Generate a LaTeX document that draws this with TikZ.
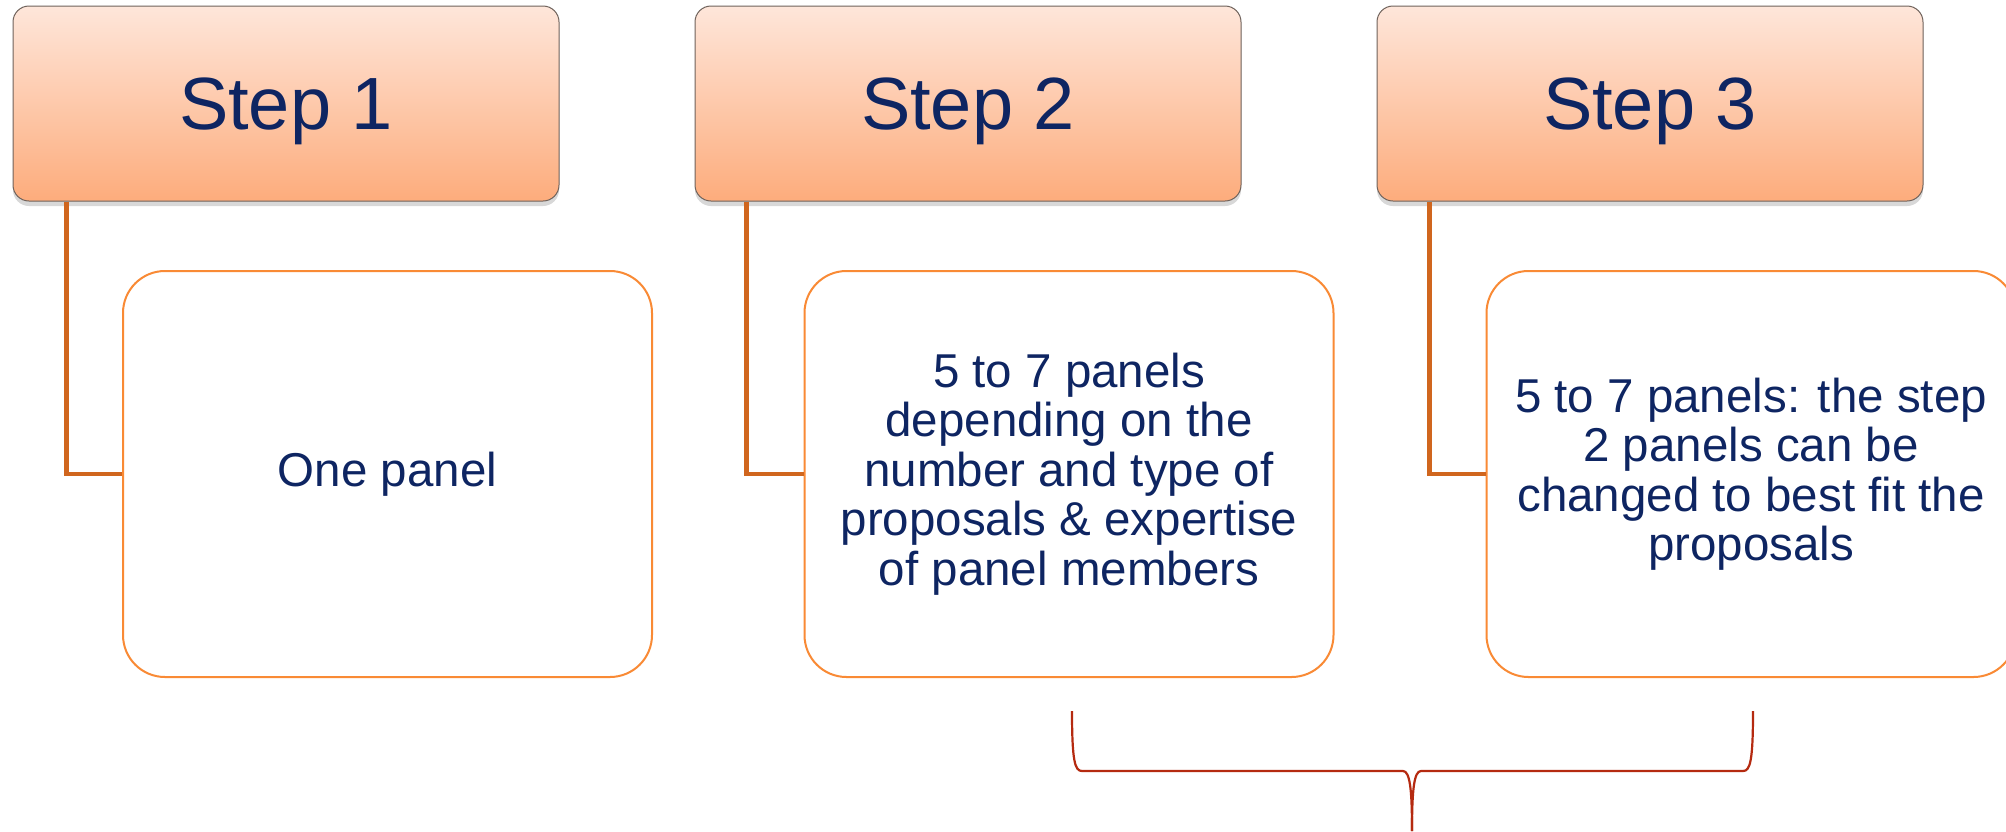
\documentclass[tikz,border=0pt]{standalone}
\usepackage{fontspec}
\setmainfont{Liberation Sans}
\usetikzlibrary{shadows}
\definecolor{navy}{HTML}{0E2562}
\definecolor{peachtop}{HTML}{FEE6DA}
\definecolor{peachbot}{HTML}{FDAC7C}
\definecolor{stepborder}{HTML}{6F625B}
\definecolor{linkcol}{HTML}{D0661E}
\definecolor{panelcol}{HTML}{F98A35}
\definecolor{bracecol}{HTML}{B52A10}
\tikzset{
  stepbox/.style={draw=stepborder, line width=1pt, rounded corners=16pt,
    top color=peachtop, bottom color=peachbot,
    drop shadow={shadow xshift=0pt, shadow yshift=-5pt, opacity=0.25, fill=black!60},
    minimum width=546pt, minimum height=195pt, inner sep=0pt,
    text height=56pt, text depth=4pt,
    text=navy, font=\fontsize{74}{88}\selectfont},
  panelbox/.style={draw=panelcol, line width=2pt, rounded corners=42pt, fill=white,
    minimum width=529pt, minimum height=406pt, inner sep=0pt,
    text=navy, align=center, font=\fontsize{47.5}{49.5}\selectfont},
  link/.style={draw=linkcol, line width=4.5pt},
  bracepath/.style={draw=bracecol, line width=2.2pt}
}
\begin{document}
\begin{tikzpicture}[x=1pt,y=-1pt]
\useasboundingbox (0,0) rectangle (2006,831);
\fill[white] (0,0) rectangle (2006,831);
% step boxes
\node[stepbox] (s1) at (286,103.5) {Step 1};
\node[stepbox] (s2) at (968,103.5) {Step 2};
\node[stepbox] (s3) at (1650,103.5) {Step 3};
% panels
\node[panelbox] (c1) at (387.5,474) {One panel};
\node[panelbox] (c2) at (1069,474) {5 to 7 panels\\depending on the\\number and type of\\proposals \& expertise\\of panel members};
\node[panelbox] (c3) at (1751,474) {5 to 7 panels: the step\\2 panels can be\\changed to best fit the\\proposals};
% connectors
\draw[link] ([xshift=54pt]s1.south west) |- (c1.west);
\draw[link] ([xshift=52pt]s2.south west) |- (c2.west);
\draw[link] ([xshift=53pt]s3.south west) |- (c3.west);
% brace
\coordinate (bl) at (1072,711);
\coordinate (br) at (1753,711);
\coordinate (bm) at (1412,831);
\draw[bracepath] (bl) .. controls (1072,762) and (1075,771) .. (1082,771) -- (1403,771)
  .. controls (1410,771) and (1412,790) .. (bm);
\draw[bracepath] (bm) .. controls (1412,790) and (1414,771) .. (1421,771) -- (1743,771)
  .. controls (1750,771) and (1753,762) .. (br);
\end{tikzpicture}
\end{document}
